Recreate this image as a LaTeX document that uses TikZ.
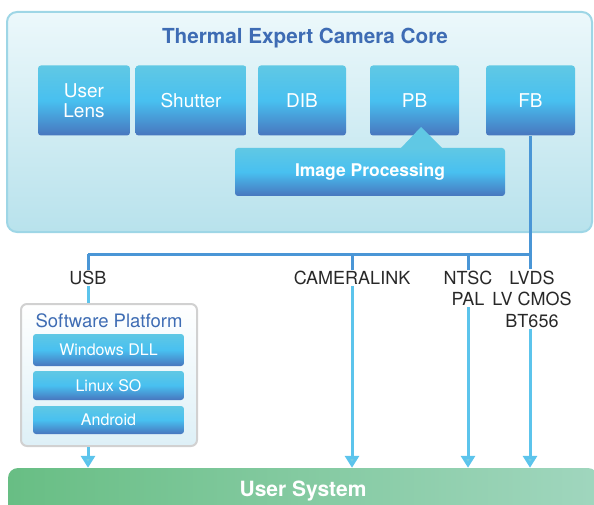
\documentclass[tikz,border=0pt]{standalone}
\usepackage{fontspec}
\setmainfont{TeX Gyre Heros}
\usetikzlibrary{arrows.meta}
\definecolor{titleblue}{RGB}{62,108,180}
\definecolor{blktop}{RGB}{96,200,228}
\definecolor{blkmid}{RGB}{72,192,240}
\definecolor{blkbot}{RGB}{72,118,190}
\definecolor{coretop}{RGB}{236,248,251}
\definecolor{corebot}{RGB}{184,226,236}
\definecolor{coreline}{RGB}{158,214,230}
\definecolor{busblue}{RGB}{74,150,214}
\definecolor{arrblue}{RGB}{92,196,236}
\definecolor{tipblue}{RGB}{118,204,226}
\definecolor{usrleft}{RGB}{104,190,132}
\definecolor{usrright}{RGB}{160,214,190}
\definecolor{labelgray}{RGB}{40,40,40}

\tikzset{
  block/.style={rounded corners=3pt, top color=blktop, bottom color=blkbot, middle color=blkmid, text=white, font=\fontsize{19}{21}\selectfont, align=center, inner sep=0pt, minimum height=70pt},
  subblock/.style={block, font=\fontsize{16}{18}\selectfont, minimum width=151pt},
  label/.style={text=labelgray, font=\fontsize{18}{21.5}\selectfont, align=center, inner sep=1pt},
  bus/.style={busblue, line width=3pt},
  link/.style={arrblue, line width=3pt},
  feed/.style={link, -{Triangle[width=14pt,length=12pt,fill=tipblue]}},
}

\begin{document}
\begin{tikzpicture}[x=1pt, y=-1pt]
\useasboundingbox (0,0) rectangle (594,505);
\clip (0,0) rectangle (594,505);

\node[draw=coreline, line width=2pt, rounded corners=10pt, top color=coretop, bottom color=corebot, minimum width=585pt, minimum height=220pt] (core) at (299.5, 122) {};
\node[text=titleblue, font=\fontsize{20.7}{24}\selectfont\bfseries] (title) at (305, 38) {Thermal Expert Camera Core};

\node[block, minimum width=92pt] (lens) at (84, 100.5) {User\\[-1pt]Lens};
\node[block, minimum width=111pt] (shutter) at (191, 100.5) {Shutter};
\node[block, minimum width=88pt] (dib) at (302, 100.5) {DIB};
\node[block, minimum width=89pt] (pb) at (414.5, 100.5) {PB};
\node[block, minimum width=89pt] (fb) at (530.5, 100.5) {FB};

\fill[blktop] (400, 149) -- (421, 127) -- (443, 149) -- cycle;
\node[block, minimum width=270pt, minimum height=48pt, font=\fontsize{17.5}{20}\selectfont\bfseries] (imgproc) at (370, 172) {Image Processing};

\node[label] (usb) at (88, 278) {USB};
\node[label] (camlink) at (352, 278) {CAMERALINK};
\node[label] (ntsc) at (468, 288.5) {NTSC\\PAL};
\node[label] (lvds) at (532, 299) {LVDS\\LV CMOS\\BT656};

\coordinate (busL) at (88, 254);
\coordinate (busR) at (530, 254);

\draw[bus] (fb.south -| busR) -- (busR |- lvds.north);
\draw[bus] (busL) -- (busR);
\draw[bus] (busL) -- (usb.north);
\draw[bus] (camlink.north |- busL) -- (camlink.north);
\draw[bus] (ntsc.north |- busL) -- (ntsc.north);

\node[draw=black!18, line width=2pt, rounded corners=6pt, top color=white, bottom color=black!4!blue!2!corebot!45, minimum width=176pt, minimum height=142pt] (sw) at (109, 375) {};
\node[text=titleblue, font=\fontsize{18.5}{21}\selectfont] (swtitle) at (109, 321) {Software Platform};
\node[subblock, minimum height=32pt] (win) at (108.5, 350) {Windows DLL};
\node[subblock, minimum height=29pt] (linux) at (108.5, 385.5) {Linux SO};
\node[subblock, minimum height=28pt] (android) at (108.5, 420) {Android};

\node[left color=usrleft, right color=usrright, rounded corners=10pt, text=white, font=\fontsize{21}{24}\selectfont\bfseries, minimum width=590pt, minimum height=46pt, inner sep=0pt] (user) at (303, 491) {\raisebox{-2pt}{User System}};

\draw[link] (usb.south) -- (sw.north -| usb);
\draw[feed] (sw.south -| usb) -- (user.north -| usb);
\draw[feed] (camlink.south) -- (user.north -| camlink);
\draw[feed] (ntsc.south) -- (user.north -| ntsc);
\draw[feed] (lvds.south -| busR) -- (user.north -| busR);
\end{tikzpicture}
\end{document}
